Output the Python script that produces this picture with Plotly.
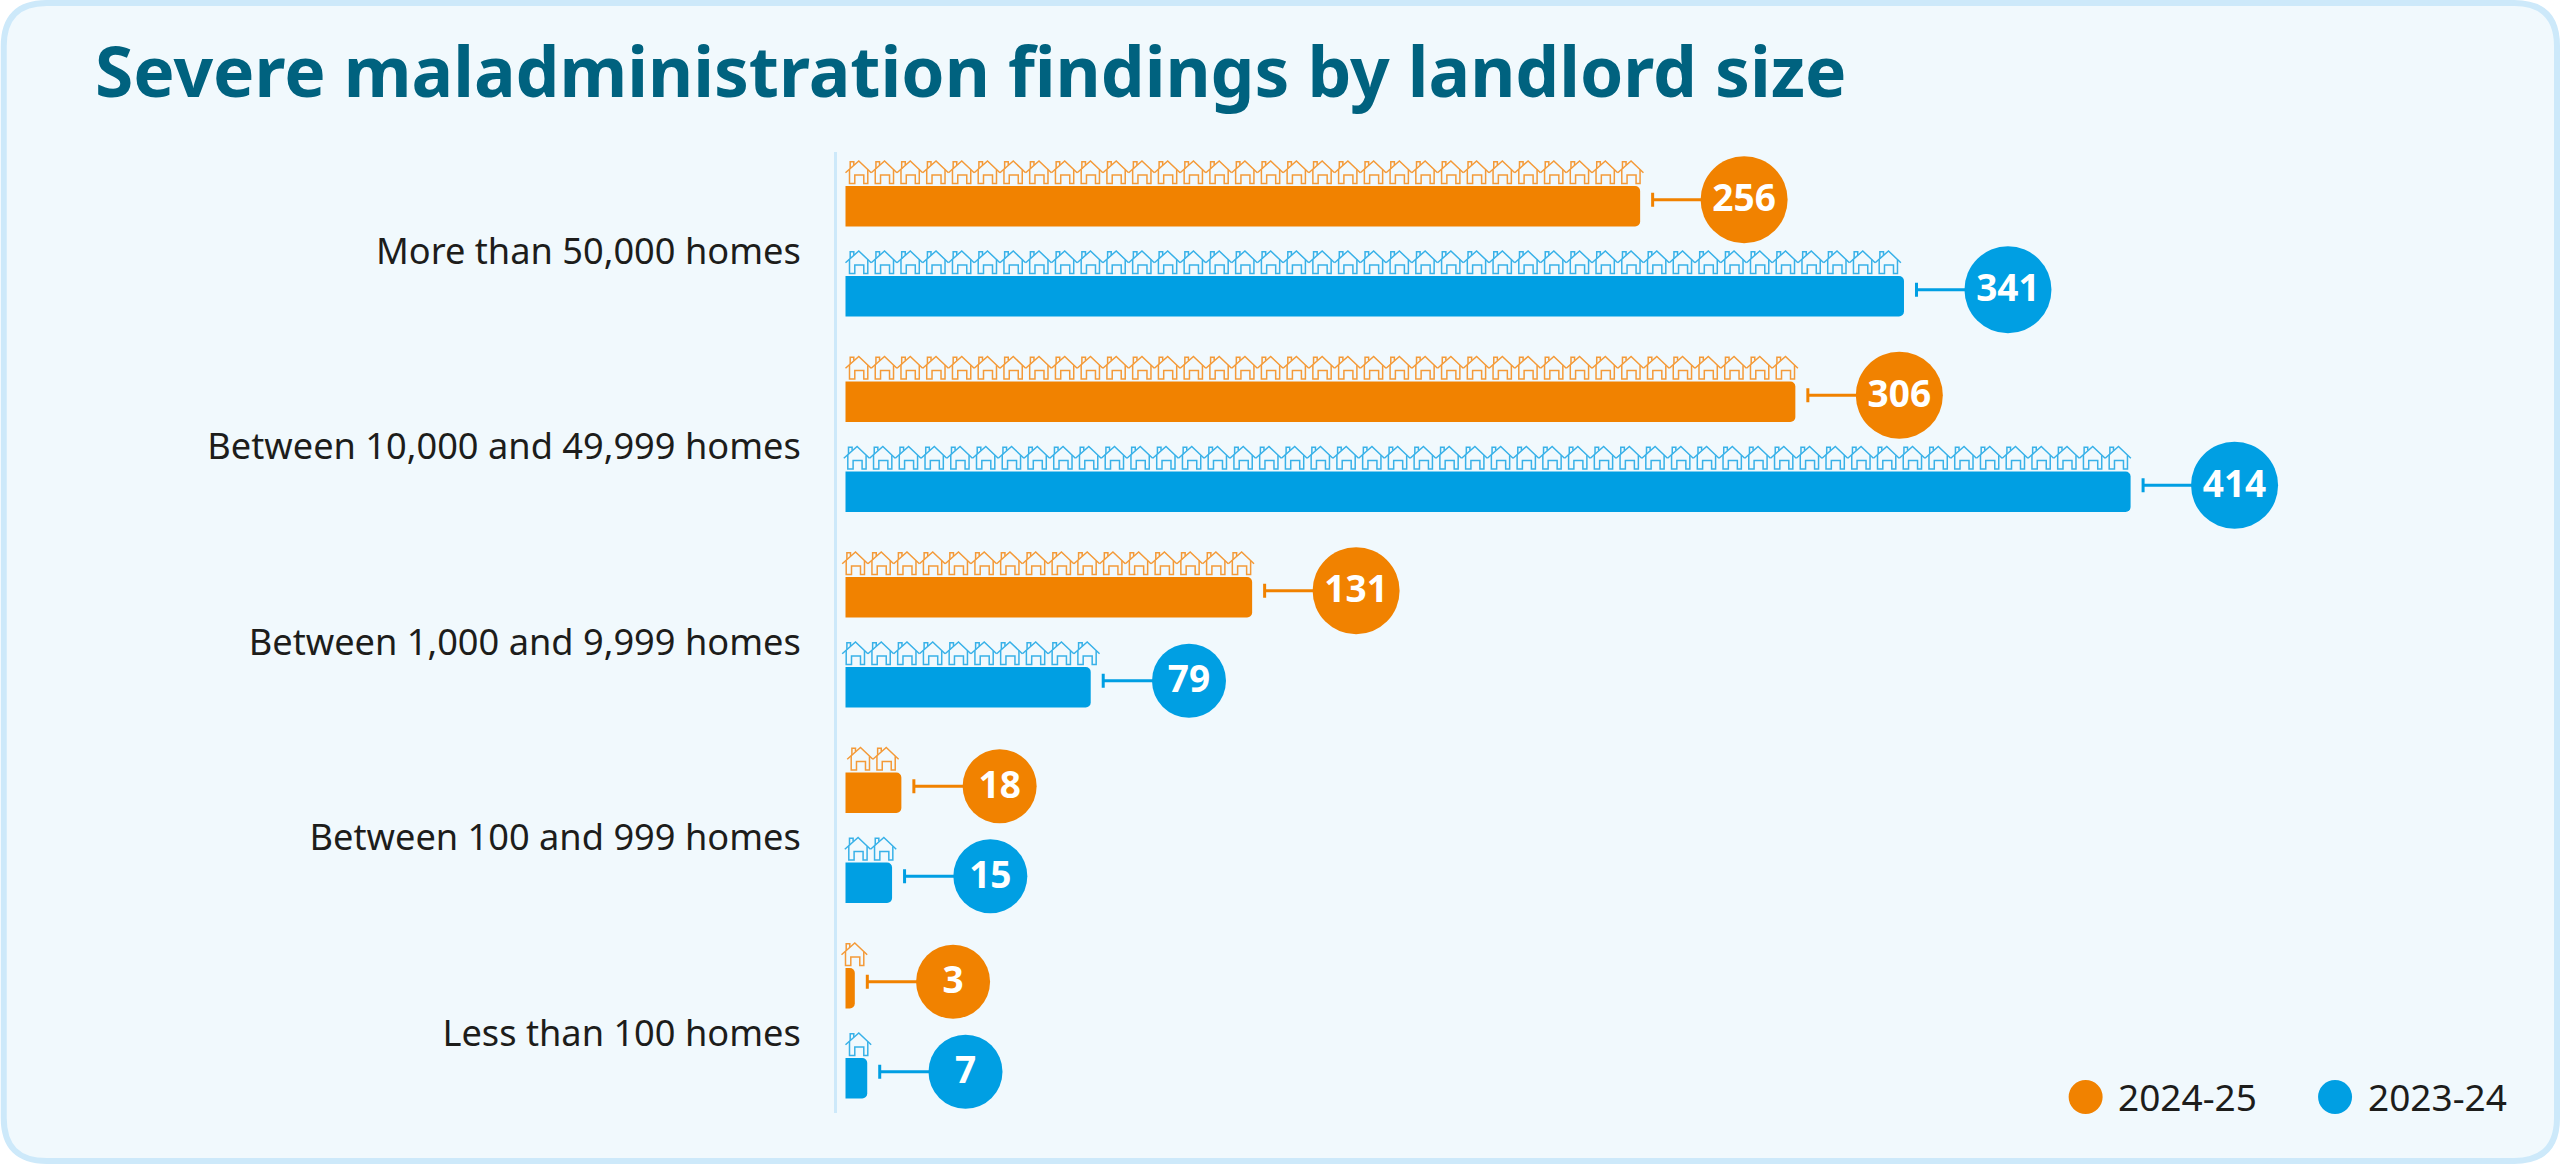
import plotly.graph_objects as go

# ---- data ----
categories = ["More than 50,000 homes", "Between 10,000 and 49,999 homes",
              "Between 1,000 and 9,999 homes", "Between 100 and 999 homes",
              "Less than 100 homes"]
series_names = ["2024-25", "2023-24"]
values_2425 = [256, 306, 131, 18, 3]
values_2324 = [341, 414, 79, 15, 7]
houses_2425 = [31, 37, 16, 2, 1]
houses_2324 = [41, 50, 10, 2, 1]
title_text = "Severe maladministration findings by landlord size"

# ---- style / geometry ----
W, H = 2560, 1164
ORANGE, BLUE = "#F18200", "#009FE3"
ORANGE_L, BLUE_L = "#F49A38", "#38B1E8"
TEXT = "#1D1D1B"
TITLE_COL = "#00627F"
PANEL = "#F1F9FD"
BORDER = "#CDE9FA"
FONT = "Noto Sans"

PLOT_L, PLOT_R, PLOT_T, PLOT_B = 836.5, 2545.0, 152.0, 1113.0
X0_PX = 845.0          # pixel of value 0
PX_PER_UNIT = 3.105
BAND = 195.5           # px per category
CENTER0 = 251.25       # pixel of first category centre
SLOT = 90.0
BAR = 40.5
CIRCLE_DY = -6.5
TEXT_DY = 2.0
CAP_GAP = 12.5
HOUSE_STEP = 25.75
HOUSE_NUDGE_2425 = [0, 0, -3.3, 1.7, -4]
HOUSE_NUDGE_2324 = [0, -1.7, -3.3, -0.7, 0]

# one house outline, px from left roof tip / bottom; y up
HOUSE = [
    [(0, 11), (13.3, 22.7), (25.7, 11)],
    [(4, 14.5), (4, 0.3), (9.3, 0.3), (9.3, 8.7), (18.3, 8.7), (18.3, 0.3), (22.3, 0.3), (22.3, 14)],
    [(4.7, 15), (4.7, 22), (8.3, 22), (8.3, 18.6)],
]


def px_x(delta_px):
    return delta_px / PX_PER_UNIT


def px_y(delta_px):
    return delta_px / BAND


def house_trace(counts, nudges, side, color):
    xs, ys = [], []
    for i, (n, nudge) in enumerate(zip(counts, nudges)):
        bottom_px = side * SLOT / 2 - BAR / 2 - 2.3
        for k in range(n):
            for part in HOUSE:
                for hx, hy in part:
                    xs.append(px_x(nudge + k * HOUSE_STEP + hx))
                    ys.append(i + px_y(bottom_px - hy))
                xs.append(None)
                ys.append(None)
    return go.Scatter(x=xs, y=ys, mode="lines", line=dict(color=color, width=1.5),
                      hoverinfo="skip", showlegend=False, cliponaxis=False)


def label_traces(values, side, color):
    sizes = [87 if len(str(v)) >= 3 else 74 for v in values]
    offs = [104.0 if len(str(v)) >= 3 else 98.3 for v in values]
    xs = [v + px_x(o) for v, o in zip(values, offs)]
    ys = [i + px_y(side * SLOT / 2 + CIRCLE_DY) for i in range(len(values))]
    minus = [px_x(o - CAP_GAP) for o in offs]
    circles = go.Scatter(
        x=xs, y=ys, mode="markers",
        marker=dict(size=sizes, color=color, line=dict(width=0), opacity=1),
        error_x=dict(type="data", symmetric=False, array=[0] * len(values), arrayminus=minus,
                     color=color, thickness=3, width=7),
        hoverinfo="skip", showlegend=False, cliponaxis=False)
    labels = go.Scatter(
        x=xs, y=[y + px_y(TEXT_DY) for y in ys], mode="text", text=[str(v) for v in values],
        textposition="middle center",
        textfont=dict(family=FONT, size=37, color="white", weight=700),
        hoverinfo="skip", showlegend=False, cliponaxis=False)
    return [circles, labels]


fig = go.Figure()
y_idx = list(range(len(categories)))
for name, vals, col in zip(series_names, [values_2425, values_2324], [ORANGE, BLUE]):
    fig.add_trace(go.Bar(y=y_idx, x=vals, name=name, orientation="h",
                         marker=dict(color=col, cornerradius=5, line=dict(width=0)),
                         showlegend=False))
fig.add_trace(house_trace(houses_2425, HOUSE_NUDGE_2425, -1, ORANGE_L))
fig.add_trace(house_trace(houses_2324, HOUSE_NUDGE_2324, 1, BLUE_L))
fig.add_traces(label_traces(values_2425, -1, ORANGE))
fig.add_traces(label_traces(values_2324, 1, BLUE))


def pxp(x):
    return (x - PLOT_L) / (PLOT_R - PLOT_L)


def pyp(y):
    return (PLOT_B - y) / (PLOT_B - PLOT_T)


def panel_path(i=3.0, r=43.0):
    l, t, R, b = i, i, W - i, H - i
    pts = [("M", [(l + r, t)]), ("L", [(R - r, t)]), ("Q", [(R, t), (R, t + r)]),
           ("L", [(R, b - r)]), ("Q", [(R, b), (R - r, b)]), ("L", [(l + r, b)]),
           ("Q", [(l, b), (l, b - r)]), ("L", [(l, t + r)]), ("Q", [(l, t), (l + r, t)])]
    s = ""
    for cmd, cs in pts:
        s += cmd + " ".join(f"{pxp(x):.6f},{pyp(y):.6f}" for x, y in cs) + " "
    return s + "Z"


shapes = [dict(type="path", path=panel_path(), xref="paper", yref="paper", layer="below",
               fillcolor=PANEL, line=dict(color=BORDER, width=6))]
annotations = []
LEG_Y = 1097.0
for name, col, cx, tx in zip(series_names, [ORANGE, BLUE], [2085.5, 2335.0], [2116.0, 2365.5]):
    shapes.append(dict(type="circle", xref="paper", yref="paper",
                       x0=pxp(cx - 17), x1=pxp(cx + 17), y0=pyp(LEG_Y + 17), y1=pyp(LEG_Y - 17),
                       fillcolor=col, line=dict(width=0)))
    annotations.append(dict(text=name, xref="paper", yref="paper", x=pxp(tx), y=pyp(LEG_Y - 1),
                            xanchor="left", yanchor="middle", showarrow=False,
                            font=dict(family=FONT, size=37, color=TEXT)))

fig.update_layout(
    width=W, height=H, autosize=False,
    paper_bgcolor="white", plot_bgcolor="rgba(0,0,0,0)",
    margin=dict(l=PLOT_L, r=W - PLOT_R, t=PLOT_T, b=H - PLOT_B, pad=0, autoexpand=False),
    barmode="group", bargap=1 - 2 * SLOT / BAND, bargroupgap=1 - BAR / SLOT,
    font=dict(family=FONT, color=TEXT),
    title=dict(text="<b>" + title_text + "</b>", x=95 / W, xanchor="left", y=1 - 73 / H, yanchor="middle",
               font=dict(family=FONT, size=69.5, color=TITLE_COL)),
    xaxis=dict(range=[(PLOT_L - X0_PX) / PX_PER_UNIT, (PLOT_R - X0_PX) / PX_PER_UNIT],
               visible=False, fixedrange=True),
    yaxis=dict(range=[(PLOT_B - CENTER0) / BAND, (PLOT_T - CENTER0) / BAND],
               tickmode="array", tickvals=y_idx, ticktext=categories,
               tickfont=dict(family=FONT, size=36.2, color=TEXT),
               ticks="", ticklabelstandoff=26, showgrid=False, zeroline=False,
               showline=True, linecolor=BORDER, linewidth=3, fixedrange=True),
    shapes=shapes, annotations=annotations, showlegend=False,
)

fig.write_html("out.html", config=dict(displayModeBar=False),
               post_script="document.body.style.margin='0';document.body.style.overflow='hidden';")
